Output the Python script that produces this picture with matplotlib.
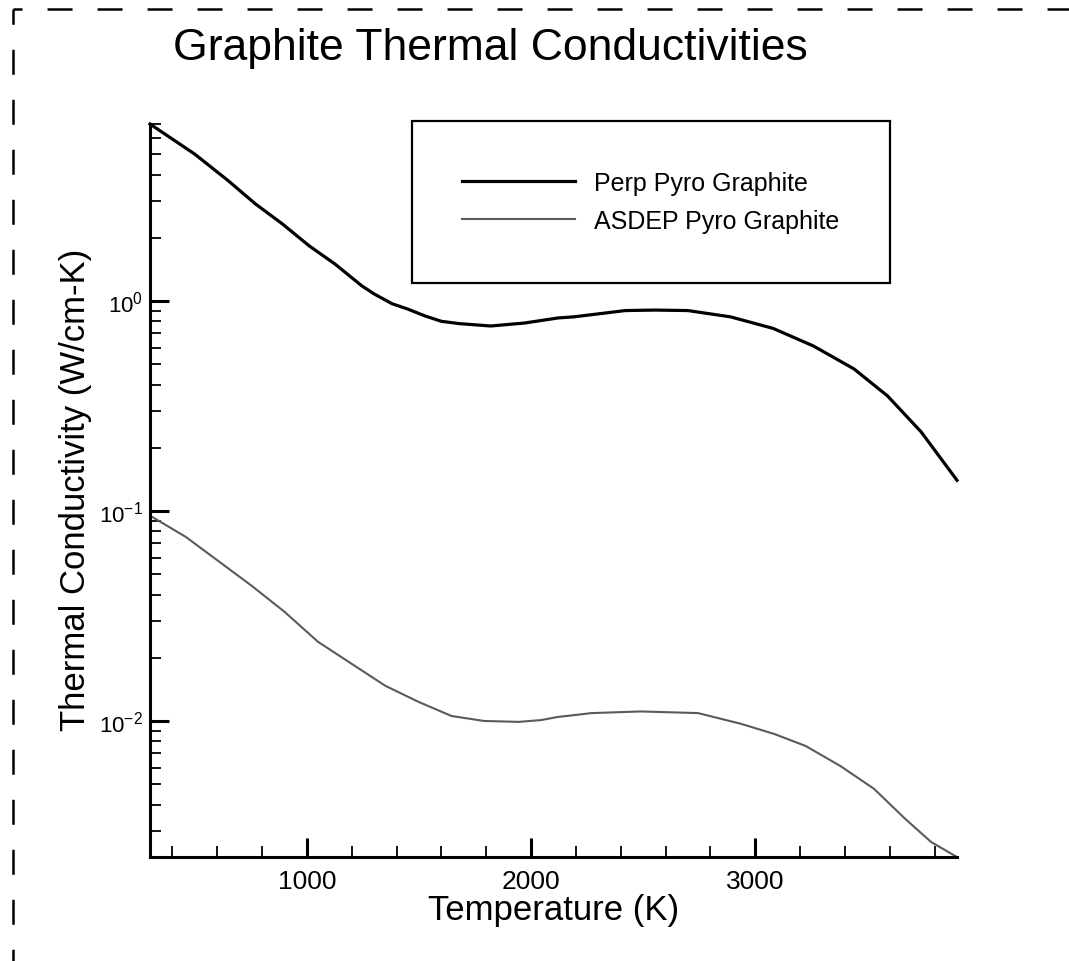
import matplotlib
matplotlib.use("Agg")
from matplotlib import pyplot as plt
from matplotlib.lines import Line2D
from matplotlib.ticker import LogLocator, MultipleLocator, NullFormatter

# values
perp_T = [300, 500, 650, 770, 890, 1010, 1125, 1245, 1300, 1380, 1450, 1525, 1600, 1680, 1820,
          1970, 2120, 2190, 2420, 2550, 2700, 2890, 3080, 3260, 3440, 3590, 3740, 3900]
perp_k = [6.96, 5.0, 3.73, 2.90, 2.33, 1.83, 1.50, 1.18, 1.08, 0.97, 0.915, 0.85, 0.80, 0.78, 0.76,
          0.785, 0.83, 0.84, 0.90, 0.905, 0.90, 0.84, 0.74, 0.61, 0.475, 0.353, 0.238, 0.14]

asdep_T = [300, 460, 610, 755, 900, 1050, 1200, 1350, 1500, 1645, 1790, 1945,
           2045, 2120, 2270, 2490, 2745, 2935, 3085, 3225, 3380, 3530, 3670, 3785, 3900]
asdep_k = [0.095, 0.0752, 0.0572, 0.0439, 0.0331, 0.0238, 0.0187, 0.0147, 0.0123,
           0.01056, 0.0100, 0.0099, 0.0101, 0.01045, 0.0109, 0.0111, 0.0109, 0.0097,
           0.00867, 0.0076, 0.0061, 0.00475, 0.00341, 0.00265, 0.00225]

series_labels = ["Perp Pyro Graphite", "ASDEP Pyro Graphite"]

plt.rcParams["font.family"] = ["Liberation Sans", "DejaVu Sans"]
plt.rcParams["mathtext.default"] = "regular"
plt.rcParams["lines.scale_dashes"] = False

W, H = 1069, 962
fig = plt.figure(figsize=(W / 100, H / 100), dpi=100)
ax = fig.add_axes([150 / W, 1 - 858 / H, 807 / W, 733.5 / H])

ax.plot(perp_T, perp_k, color="black", lw=2.3, clip_on=False, label=series_labels[0])
ax.plot(asdep_T, asdep_k, color="#5a5a5a", lw=1.5, clip_on=False, label=series_labels[1])

ax.set_yscale("log")
ax.set_xlim(300, 3900)
ax.set_ylim(0.00225, 7.0)

ax.spines["top"].set_visible(False)
ax.spines["right"].set_visible(False)
for s in ("left", "bottom"):
    ax.spines[s].set_linewidth(2.2)

ax.xaxis.set_major_locator(MultipleLocator(1000))
ax.xaxis.set_minor_locator(MultipleLocator(200))
ax.yaxis.set_major_locator(LogLocator(base=10))
ax.yaxis.set_minor_locator(LogLocator(base=10, subs=range(2, 10)))
ax.yaxis.set_minor_formatter(NullFormatter())

ax.tick_params(axis="both", which="major", direction="in", length=14, width=2.2)
ax.tick_params(axis="both", which="minor", direction="in", length=8, width=1.3)
ax.tick_params(axis="x", which="major", labelsize=19, pad=9)
ax.tick_params(axis="y", which="major", labelsize=16, pad=5)
ax.tick_params(top=False, right=False, which="both")

fig.text(490 / W, 1 - 60 / H, "Graphite Thermal Conductivities",
         fontsize=32, ha="center", va="baseline")
fig.text(554 / W, 1 - 920 / H, "Temperature (K)", fontsize=25, ha="center", va="baseline")
fig.text(92 / W, 1 - 490 / H, "Thermal Conductivity (W/cm-K)", fontsize=25,
         rotation=90, ha="right", va="center")

leg = ax.legend(loc="upper left", bbox_to_anchor=(412 / W, 1 - 122 / H),
                bbox_transform=fig.transFigure, borderaxespad=0, fontsize=18,
                frameon=True, fancybox=False, edgecolor="black", framealpha=1,
                handlelength=4.5, handletextpad=0.8, labelspacing=0.55,
                borderpad=2.0)
leg.get_frame().set_linewidth(1.6)

# dashed page border, top and left
cx, cy = 13 / W, 1 - 10 / H
fig.add_artist(Line2D([cx, 1.0], [cy, cy], transform=fig.transFigure, color="black",
                      lw=1.8, linestyle=(11.5, (18, 18))))
fig.add_artist(Line2D([cx, cx], [cy, 0.0], transform=fig.transFigure, color="black",
                      lw=1.8, linestyle=(7, (18, 18))))

fig.savefig("out.png", dpi=100)
